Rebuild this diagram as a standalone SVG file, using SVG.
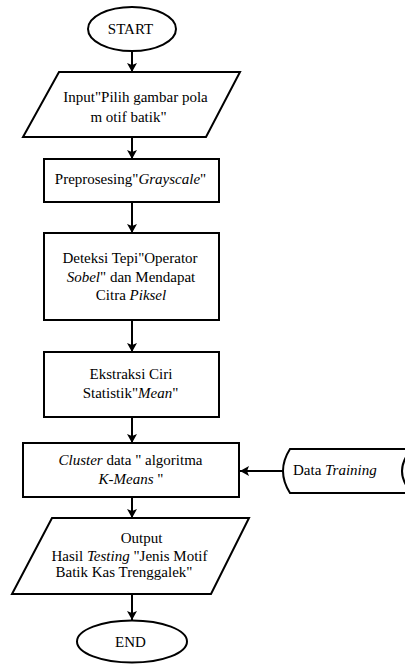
<svg xmlns="http://www.w3.org/2000/svg" width="405" height="664" viewBox="0 0 405 664">
  <style>
    .shape { fill: #fff; stroke: #000; stroke-width: 2; }
    .link { fill: none; stroke: #000; stroke-width: 2; }
    text { font-family: "Liberation Serif", "Times New Roman", serif; font-size: 15px; fill: #000; text-anchor: middle; }
    .it { font-style: italic; }
  </style>
  <defs>
    <marker id="arrow" markerUnits="userSpaceOnUse" markerWidth="10" markerHeight="10" refX="9" refY="5" orient="auto">
      <path d="M0,0 L9,5 L0,10 L2,5 Z" fill="#000"/>
    </marker>
  </defs>
  <rect width="405" height="664" fill="#fff"/>

  <g id="connectors">
    <line class="link" x1="132" y1="51" x2="132" y2="72" marker-end="url(#arrow)"/>
    <line class="link" x1="132" y1="137" x2="132" y2="159" marker-end="url(#arrow)"/>
    <line class="link" x1="132" y1="202" x2="132" y2="233" marker-end="url(#arrow)"/>
    <line class="link" x1="132" y1="320" x2="132" y2="352" marker-end="url(#arrow)"/>
    <line class="link" x1="132" y1="417" x2="132" y2="443" marker-end="url(#arrow)"/>
    <line class="link" x1="132" y1="497" x2="132" y2="518" marker-end="url(#arrow)"/>
    <line class="link" x1="132" y1="594" x2="132" y2="620" marker-end="url(#arrow)"/>
    <line class="link" x1="283" y1="471" x2="240" y2="471" marker-end="url(#arrow)"/>
  </g>

  <g id="start">
    <ellipse class="shape" cx="132" cy="29" rx="44" ry="22"/>
    <text x="130.5" y="34">START</text>
  </g>

  <g id="input">
    <polygon class="shape" points="59,72 240,72 206,137 23,137"/>
    <text x="135.5" y="102">Input"Pilih gambar pola</text>
    <text x="128.5" y="122">m otif batik"</text>
  </g>

  <g id="preprocessing">
    <rect class="shape" x="44" y="159" width="175" height="43"/>
    <text x="130.5" y="184">Preprosesing"<tspan class="it">Grayscale</tspan>"</text>
  </g>

  <g id="edge-detection">
    <rect class="shape" x="44" y="233" width="175" height="87"/>
    <text x="130" y="263">Deteksi Tepi"Operator</text>
    <text x="131" y="282"><tspan class="it">Sobel</tspan>" dan Mendapat</text>
    <text x="131" y="300">Citra <tspan class="it">Piksel</tspan></text>
  </g>

  <g id="feature-extraction">
    <rect class="shape" x="44" y="352" width="175" height="65"/>
    <text x="131" y="379">Ekstraksi Ciri</text>
    <text x="130.5" y="398">Statistik"<tspan class="it">Mean</tspan>"</text>
  </g>

  <g id="clustering">
    <rect class="shape" x="23" y="443" width="216" height="54"/>
    <text x="130.5" y="465"><tspan class="it">Cluster</tspan> data " algoritma</text>
    <text x="131" y="484"><tspan class="it">K-Means</tspan> "</text>
  </g>

  <g id="training-data">
    <path class="shape" d="M290,449 L412,449 Q392,471 412,493 L290,493 Q276,471 290,449 Z"/>
    <text x="293" y="475" style="text-anchor:start">Data <tspan class="it">Training</tspan></text>
  </g>

  <g id="output">
    <polygon class="shape" points="52,518 249,518 211,594 12,594"/>
    <text x="141.5" y="543">Output</text>
    <text x="129.5" y="561">Hasil <tspan class="it">Testing</tspan> "Jenis Motif</text>
    <text x="124" y="577">Batik Kas Trenggalek"</text>
  </g>

  <g id="end">
    <ellipse class="shape" cx="132" cy="641.5" rx="55" ry="21"/>
    <text x="130.5" y="647">END</text>
  </g>
</svg>
